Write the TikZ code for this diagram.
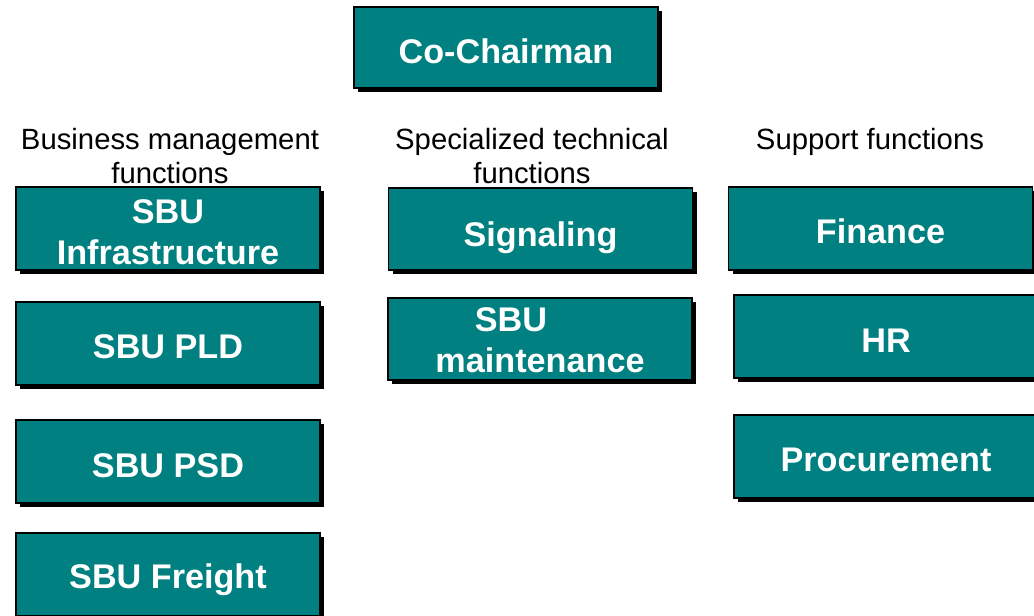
\documentclass[tikz,border=0pt]{standalone}
\usepackage{fontspec}
\setmainfont{Liberation Sans}
\usetikzlibrary{shadows}
\definecolor{boxteal}{RGB}{0,128,128}
\tikzset{
  orgbox/.style={draw=black, line width=1.3pt, fill=boxteal, text=white,
    font=\fontsize{34.2}{41}\selectfont\bfseries, align=center, inner sep=0pt,
    minimum width=304pt, minimum height=83pt,
    drop shadow={shadow xshift=4pt, shadow yshift=-4pt, fill=black, opacity=1}},
  oneline/.style={text height=#1, text depth=0pt},
  oneline/.default=30pt,
  grouplabel/.style={font=\fontsize{29.3}{34}\selectfont, align=center, inner sep=0pt, text=black}
}
\begin{document}
\begin{tikzpicture}[x=1pt,y=-1pt]
\useasboundingbox (0,0) rectangle (1034,616);
\clip (0,0) rectangle (1034,616);
\node[orgbox, oneline=31pt, minimum height=81pt] (cochair) at (506,47.5) {Co-Chairman};

\node[grouplabel] (lblbiz) at (170,156) {Business management\\functions};
\node[grouplabel] (lbltech) at (532,156) {Specialized technical\\functions};
\node[grouplabel] (lblsup) at (870,142) {Support functions};

\node[orgbox] (infra) at (168,228.5) {\rule{0pt}{32pt}SBU\\Infrastructure};
\node[orgbox, oneline=29pt] (pld) at (168,343.5) {SBU PLD};
\node[orgbox, oneline=31pt] (psd) at (168,461.5) {SBU PSD};
\node[orgbox, oneline=28pt] (freight) at (168,574.5) {SBU Freight};

\node[orgbox, oneline=34pt, minimum height=82pt] (signal) at (540.5,229) {Signaling};
\node[orgbox, minimum height=82pt] (maint) at (540,339) {\rule{0pt}{27pt}SBU\hspace*{58pt}\\maintenance};

\node[orgbox, oneline=29pt] (finance) at (880.5,228.5) {Finance};
\node[orgbox, oneline=31pt] (hr) at (886,336.5) {HR};
\node[orgbox, oneline] (proc) at (886,456.5) {Procurement};
\end{tikzpicture}
\end{document}
